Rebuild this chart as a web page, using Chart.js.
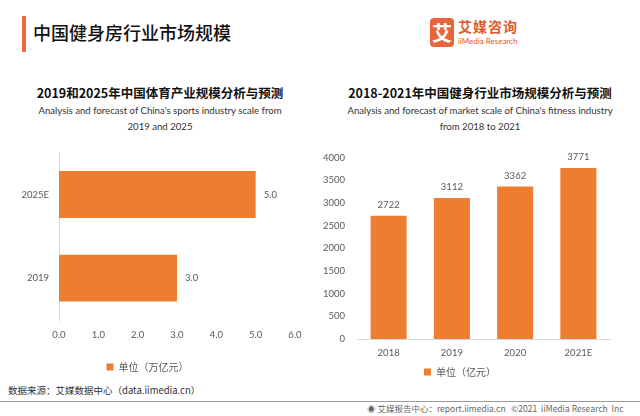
<!DOCTYPE html>
<html>
<head>
<meta charset="utf-8">
<script src="https://cdn.jsdelivr.net/npm/chart.js@4.4.0/dist/chart.umd.min.js"></script>
<style>
  body { margin: 0; width: 640px; height: 416px; background: #fff; position: relative; overflow: hidden;
         font-family: "Noto Sans CJK SC", "Noto Sans", sans-serif; }
  .abs { position: absolute; }
  .bar { left: 22px; top: 16px; width: 4px; height: 36px; background: #EC6A3F; }
  .head { left: 33px; top: 20px; font-size: 18px; font-weight: 500; color: #111; line-height: 24px; }
  .logo { left: 430px; top: 18px; width: 24px; height: 29px; background: #E8643A; border-radius: 4px;
          color: #fff; font-size: 20px; font-weight: 700; text-align: center; line-height: 29px; }
  .logo1 { left: 458px; top: 17px; font-size: 14px; font-weight: 700; color: #E0592A; line-height: 18px; letter-spacing: 1px; }
  .logo2 { left: 458px; top: 36px; font-size: 8px; color: #E0592A; line-height: 10px; font-family: Lato, sans-serif; }
  .ttl { width: 320px; text-align: center; font-size: 12.5px; font-weight: 700; color: #111; top: 84px; line-height: 18px; }
  .sub { width: 320px; text-align: center; font-size: 9.6px; color: #333; top: 103px; line-height: 16px;
         font-family: Lato, "Noto Sans", sans-serif; }
  .src { left: 8px; top: 383px; font-size: 9.5px; color: #333; line-height: 14px; }
  .rule { left: 0; top: 401px; width: 640px; height: 1px; background: #9a9a9a; }
  .foot { left: 367px; top: 402px; font-size: 8.5px; color: #666; line-height: 13px; white-space: nowrap; }
</style>
</head>
<body>
<div class="abs bar"></div>
<div class="abs head">中国健身房行业市场规模</div>
<div class="abs logo">艾</div>
<div class="abs logo1">艾媒咨询</div>
<div class="abs logo2">iiMedia Research</div>

<div class="abs ttl" style="left:0">2019和2025年中国体育产业规模分析与预测</div>
<div class="abs sub" style="left:0">Analysis and forecast of China's sports industry scale from<br>2019 and 2025</div>
<div class="abs ttl" style="left:320px">2018-2021年中国健身行业市场规模分析与预测</div>
<div class="abs sub" style="left:320px">Analysis and forecast of market scale of China's fitness industry<br>from 2018 to 2021</div>

<div class="abs" style="left:0;top:137px;width:320px;height:245px"><canvas id="sportsChart"></canvas></div>
<div class="abs" style="left:310px;top:140px;width:330px;height:247px"><canvas id="fitnessChart"></canvas></div>

<div class="abs src">数据来源：艾媒数据中心（data.iimedia.cn）</div>
<div class="abs rule"></div>
<div class="abs foot">&#9673; 艾媒报告中心：report.iimedia.cn &nbsp; ©2021 &nbsp;iiMedia Research &nbsp;Inc</div>

<script>
'use strict'

// sports industry (万亿元)
let sportsYears = ['2025E', '2019'];
let sportsValues = [5.0, 3.0];
let sportsTicks = [0, 1, 2, 3, 4, 5, 6];

// fitness industry (亿元)
let fitnessYears = ['2018', '2019', '2020', '2021E'];
let fitnessValues = [2722, 3112, 3362, 3771];
let fitnessTicks = [0, 500, 1000, 1500, 2000, 2500, 3000, 3500, 4000];

const ORANGE = '#ED7D31';
const GREY = '#595959';
const tickFont = { family: 'Lato, "Noto Sans", sans-serif', size: 9.5 };

// draws the value next to each bar
let valueLabels = {
    id: 'valueLabels',
    afterDatasetsDraw: function (chart, args, opts) {
        let ctx = chart.ctx;
        let meta = chart.getDatasetMeta(0);
        ctx.save();
        ctx.fillStyle = GREY;
        ctx.font = '9.5px Lato, "Noto Sans", sans-serif';
        meta.data.forEach(function (bar, i) {
            let v = chart.data.datasets[0].data[i];
            let txt = opts.digits ? v.toFixed(opts.digits) : String(v);
            if (chart.options.indexAxis === 'y') {
                ctx.textAlign = 'left';
                ctx.textBaseline = 'middle';
                ctx.fillText(txt, bar.x + 8, bar.y);
            } else {
                ctx.textAlign = 'center';
                ctx.textBaseline = 'bottom';
                ctx.fillText(txt, bar.x, bar.y - 6);
            }
        });
        ctx.restore();
    }
};

let legendOpts = {
    position: 'bottom',
    labels: {
        color: GREY,
        font: { family: '"Noto Sans CJK SC", sans-serif', size: 10 },
        usePointStyle: true,
        pointStyle: 'rect',
        boxWidth: 7,
        boxHeight: 7,
        padding: 10
    }
};

new Chart(document.getElementById('sportsChart'), {
    type: 'bar',
    data: {
        labels: sportsYears,
        datasets: [{
            label: '单位（万亿元）',
            data: sportsValues,
            backgroundColor: ORANGE,
            categoryPercentage: 0.56,
            barPercentage: 1
        }]
    },
    plugins: [valueLabels],
    options: {
        indexAxis: 'y',
        responsive: true,
        maintainAspectRatio: false,
        animation: false,
        layout: { padding: { top: 5, right: 25, left: 0, bottom: 0 } },
        plugins: {
            legend: legendOpts,
            tooltip: { enabled: false },
            valueLabels: { digits: 1 }
        },
        scales: {
            x: {
                min: 0, max: 6,
                afterBuildTicks: function (s) { s.ticks = sportsTicks.map(function (v) { return { value: v }; }); },
                ticks: { color: GREY, font: tickFont, padding: 9, callback: function (v) { return v.toFixed(1); } },
                grid: { display: false, drawTicks: false },
                border: { display: false },
                afterFit: function (s) { s.height = 32; }
            },
            y: {
                ticks: { color: GREY, font: tickFont, padding: 10 },
                grid: { display: false, drawTicks: false },
                border: { color: '#d9d9d9' },
                afterFit: function (s) { s.width = 59; }
            }
        }
    }
});

new Chart(document.getElementById('fitnessChart'), {
    type: 'bar',
    data: {
        labels: fitnessYears,
        datasets: [{
            label: '单位（亿元）',
            data: fitnessValues,
            backgroundColor: ORANGE,
            categoryPercentage: 0.57,
            barPercentage: 1
        }]
    },
    plugins: [valueLabels],
    options: {
        responsive: true,
        maintainAspectRatio: false,
        animation: false,
        layout: { padding: { top: 2, right: 30, left: 0, bottom: 0 } },
        plugins: {
            legend: legendOpts,
            tooltip: { enabled: false },
            valueLabels: {}
        },
        scales: {
            x: {
                ticks: { color: GREY, font: tickFont, padding: 8 },
                grid: { display: false, drawTicks: false },
                border: { color: '#d9d9d9' },
                afterFit: function (s) { s.height = 18; }
            },
            y: {
                min: 0, max: 4000,
                afterBuildTicks: function (s) { s.ticks = fitnessTicks.map(function (v) { return { value: v }; }); },
                ticks: { color: GREY, font: tickFont, padding: 12, callback: function (v) { return String(v); } },
                grid: { display: false, drawTicks: false },
                border: { display: false },
                afterFit: function (s) { s.width = 47; }
            }
        }
    }
});
</script>
</body>
</html>
